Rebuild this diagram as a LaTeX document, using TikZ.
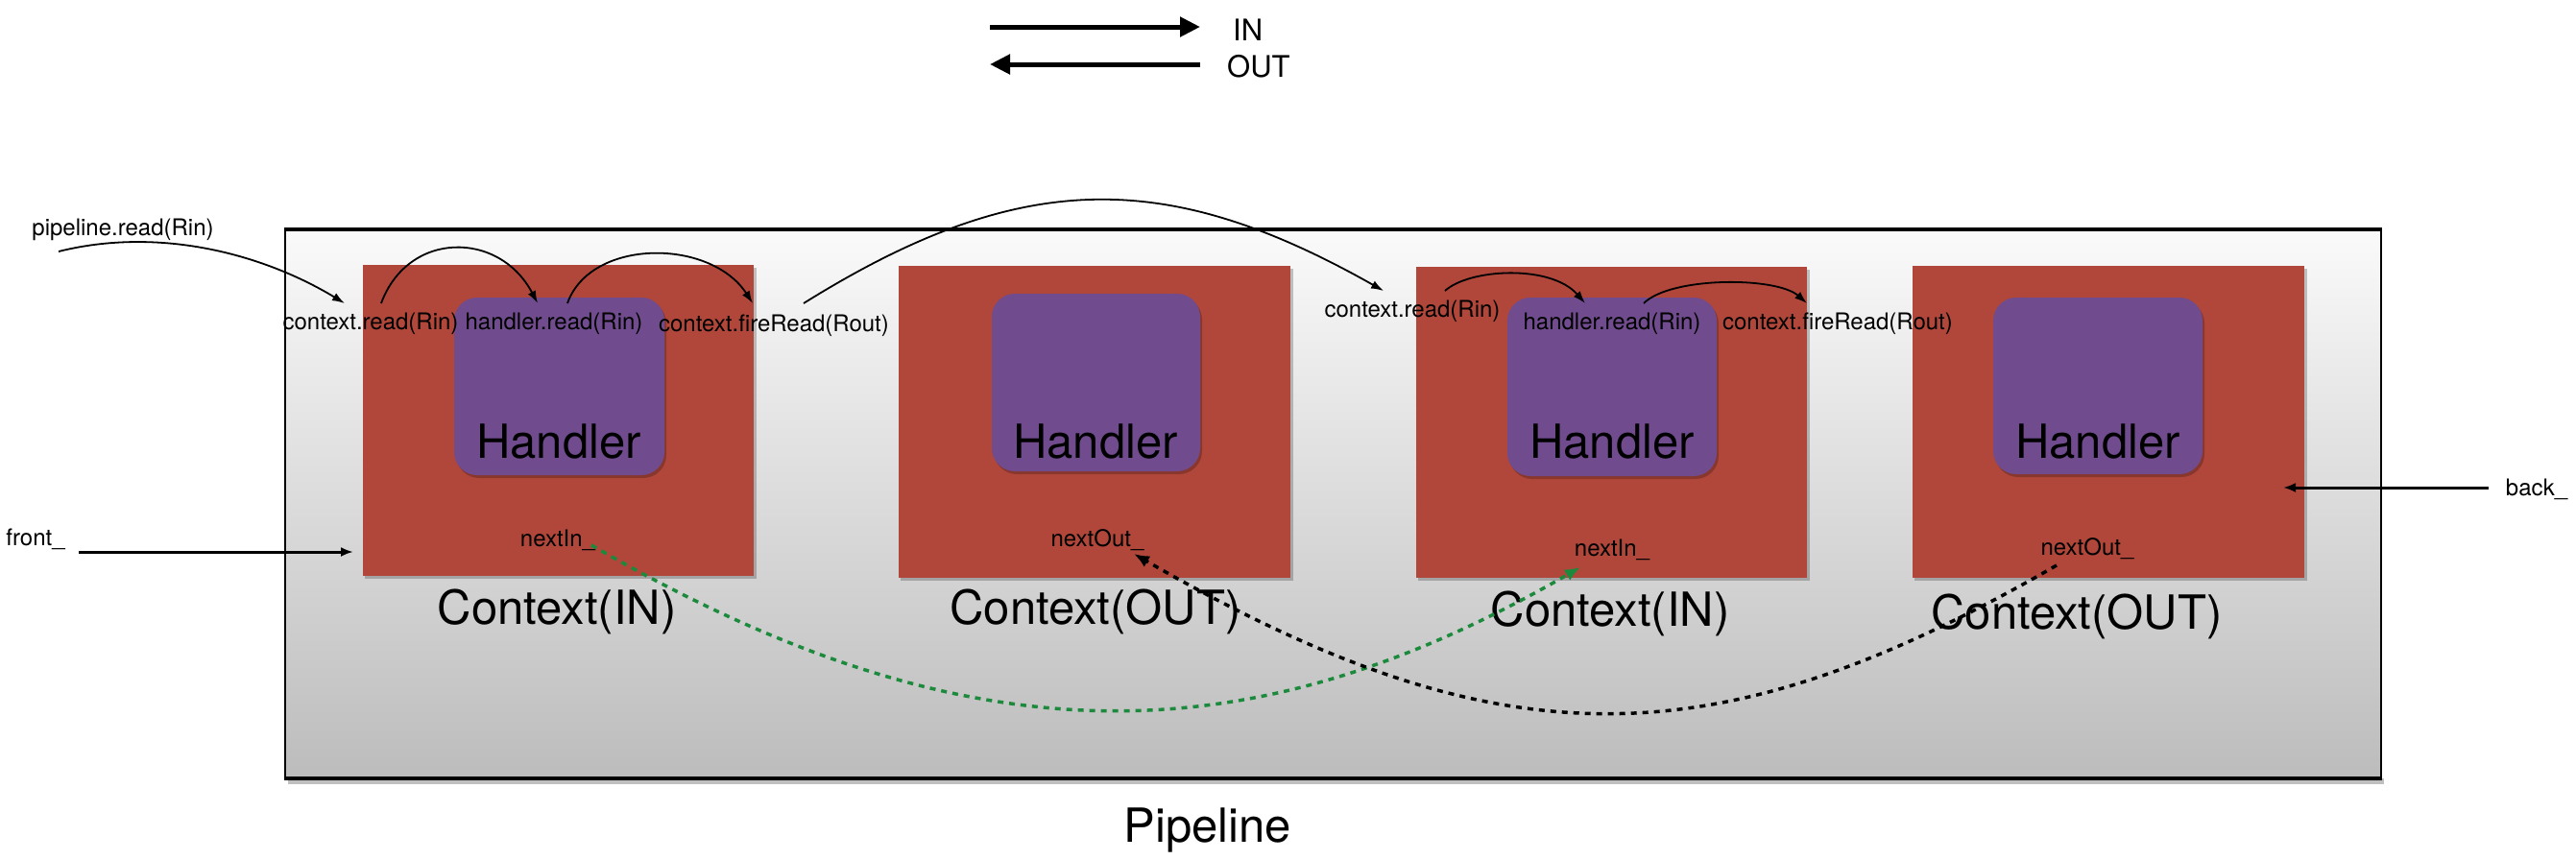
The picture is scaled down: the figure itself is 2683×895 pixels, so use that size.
\documentclass[tikz,border=0pt]{standalone}
\usepackage{fontspec}
\setmainfont{TeX Gyre Heros}
\usetikzlibrary{arrows.meta}
\definecolor{ctxred}{HTML}{B0473A}
\definecolor{hndpurple}{HTML}{704C8E}
\definecolor{pipetop}{HTML}{FAFAFA}
\definecolor{pipebot}{HTML}{BCBCBC}
\definecolor{flowgreen}{HTML}{1B8A3C}
\tikzset{
  ctxbox/.style={fill=ctxred, draw=none, inner sep=0pt, outer sep=0pt, anchor=north west},
  hbox/.style={fill=hndpurple, draw=none, rounded corners=24pt, inner sep=0pt, outer sep=0pt, anchor=north west},
  boxshadow/.style={fill=black, opacity=0.22},
  smalltxt/.style={font=\fontsize{24}{28}\selectfont, inner sep=0pt, anchor=base},
  bigtxt/.style={font=\fontsize{49}{58}\selectfont, inner sep=0pt, anchor=base},
  legtxt/.style={font=\fontsize{31}{36}\selectfont, inner sep=0pt, anchor=base west},
  callarrow/.style={line width=1.8pt, -{Latex[length=13pt,width=9pt]}},
  ptrarrow/.style={line width=3.5pt, dash pattern=on 6pt off 6pt, -{Latex[length=16pt,width=13pt]}},
  legarrow/.style={line width=5pt, -{Triangle[length=21pt,width=20pt]}},
}
\begin{document}
\begin{tikzpicture}[x=1pt,y=-1pt]
\useasboundingbox (0,0) rectangle (2683,895);

% legend
\coordinate (inA) at (1031,28); \coordinate (inB) at (1250,28);
\coordinate (outA) at (1250,67); \coordinate (outB) at (1031,67);
\draw[legarrow] (inA) -- (inB);
\draw[legarrow] (outA) -- (outB);
\node[legtxt] (legin) at (1284,42) {IN};
\node[legtxt] (legout) at (1278,80) {OUT};

% pipeline box
\fill[black!25] (300,811) rectangle (2483,817);
\shade[top color=pipetop, bottom color=pipebot] (297,239) rectangle (2480,811);
\draw[line width=1.6pt] (297,239) rectangle (2480,811);
\draw[line width=3.5pt] (296,239) -- (2481,239);
\draw[line width=3.5pt] (296,811) -- (2481,811);
\node[bigtxt] (pipelbl) at (1258,877) {Pipeline};

% context boxes with shadows
\fill[boxshadow] (380,279) rectangle (788,603);
\fill[boxshadow] (938,280) rectangle (1347,605);
\fill[boxshadow] (1477,281) rectangle (1885,605);
\fill[boxshadow] (1994,280) rectangle (2403,605);
\node[ctxbox, minimum width=407pt, minimum height=324pt] (c1) at (378,276) {};
\node[ctxbox, minimum width=408pt, minimum height=325pt] (c2) at (936,277) {};
\node[ctxbox, minimum width=407pt, minimum height=324pt] (c3) at (1475,278) {};
\node[ctxbox, minimum width=408pt, minimum height=325pt] (c4) at (1992,277) {};

% handler boxes with shadows
\fill[boxshadow, rounded corners=24pt] (475,313) rectangle (694,498);
\fill[boxshadow, rounded corners=24pt] (1035,309) rectangle (1252,494);
\fill[boxshadow, rounded corners=24pt] (1572,313) rectangle (1790,499);
\fill[boxshadow, rounded corners=24pt] (2078,313) rectangle (2296,497);
\node[hbox, minimum width=219pt, minimum height=185pt] (h1) at (473,310) {};
\node[hbox, minimum width=217pt, minimum height=185pt] (h2) at (1033,306) {};
\node[hbox, minimum width=218pt, minimum height=186pt] (h3) at (1570,310) {};
\node[hbox, minimum width=218pt, minimum height=184pt] (h4) at (2076,310) {};
\node[bigtxt] (h1t) at (582,477) {Handler};
\node[bigtxt] (h2t) at (1141,477) {Handler};
\node[bigtxt] (h3t) at (1679,477) {Handler};
\node[bigtxt] (h4t) at (2185,477) {Handler};

% context labels
\node[bigtxt] (c1t) at (580,650) {Context(IN)};
\node[bigtxt] (c2t) at (1141,650) {Context(OUT)};
\node[bigtxt] (c3t) at (1677,652) {Context(IN)};
\node[bigtxt] (c4t) at (2163,655) {Context(OUT)};

% small labels
\node[smalltxt] (prl) at (128,245) {pipeline.read(Rin)};
\node[smalltxt] (cr1) at (386,343) {context.read(Rin)};
\node[smalltxt] (hr1) at (577,343) {handler.read(Rin)};
\node[smalltxt] (fr1) at (806,345) {context.fireRead(Rout)};
\node[smalltxt] (cr3) at (1471,330) {context.read(Rin)};
\node[smalltxt] (hr3) at (1679,343) {handler.read(Rin)};
\node[smalltxt] (fr3) at (1914,343) {context.fireRead(Rout)};
\node[smalltxt] (ni1) at (581,569) {nextIn\_};
\node[smalltxt] (no2) at (1143,569) {nextOut\_};
\node[smalltxt] (ni3) at (1679,579) {nextIn\_};
\node[smalltxt] (no4) at (2174,578) {nextOut\_};
\node[smalltxt] (frontl) at (37,568) {front\_};
\node[smalltxt] (backl) at (2642,516) {back\_};

% call arrows
\coordinate (prS) at (61,262); \coordinate (prE) at (359,316);
\draw[callarrow] (prS) .. controls (165,236) and (273,264) .. (prE);
\coordinate (a1S) at (397,316); \coordinate (a1E) at (560,316);
\draw[callarrow] (a1S) .. controls (425,240) and (520,240) .. (a1E);
\coordinate (a2S) at (591,316); \coordinate (a2E) at (784,316);
\draw[callarrow] (a2S) .. controls (615,248) and (740,248) .. (a2E);
\coordinate (bgS) at (837,316); \coordinate (bgE) at (1441,303);
\draw[callarrow] (bgS) .. controls (1063,175) and (1215,175) .. (bgE);
\coordinate (a3S) at (1505,303); \coordinate (a3E) at (1651,316);
\draw[callarrow] (a3S) .. controls (1530,280) and (1615,275) .. (a3E);
\coordinate (a4S) at (1712,316); \coordinate (a4E) at (1882,316);
\draw[callarrow] (a4S) .. controls (1740,288) and (1850,288) .. (a4E);

% front / back
\coordinate (frS) at (82,575); \coordinate (frE) at (368,575);
\draw[line width=3pt, -{Latex[length=13pt,width=10pt]}] (frS) -- (frE);
\coordinate (bkS) at (2592,508); \coordinate (bkE) at (2378,508);
\draw[line width=3pt, -{Latex[length=13pt,width=10pt]}] (bkS) -- (bkE);

% next pointers
\coordinate (gS) at (616,568); \coordinate (gE) at (1646,591);
\draw[ptrarrow, color=flowgreen] (gS) .. controls (1006,793) and (1296,793) .. (gE);
\coordinate (kS) at (2142,589); \coordinate (kE) at (1181,577);
\draw[ptrarrow] (kS) .. controls (1783,796) and (1561,796) .. (kE);
\end{tikzpicture}
\end{document}
